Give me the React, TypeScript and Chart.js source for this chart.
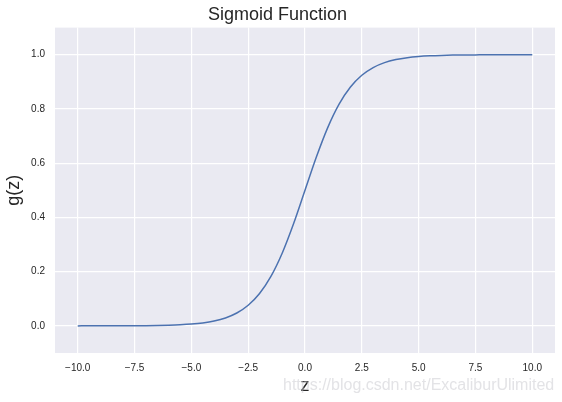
import React, { useEffect, useRef } from "react";
import { Chart, registerables } from "chart.js";

Chart.register(...registerables);

const zValues = [
  -10, -9.5, -9, -8.5, -8, -7.5, -7, -6.5, -6, -5.5, -5, -4.5, -4, -3.5, -3, -2.5, -2, -1.5, -1, -0.5,
  0, 0.5, 1, 1.5, 2, 2.5, 3, 3.5, 4, 4.5, 5, 5.5, 6, 6.5, 7, 7.5, 8, 8.5, 9, 9.5, 10,
];
const gValues = [
  0.0, 0.0001, 0.0001, 0.0002, 0.0003, 0.0006, 0.0009, 0.0015, 0.0025, 0.0041, 0.0067, 0.011, 0.018,
  0.0293, 0.0474, 0.0759, 0.1192, 0.1824, 0.2689, 0.3775, 0.5, 0.6225, 0.7311, 0.8176, 0.8808, 0.9241,
  0.9526, 0.9707, 0.982, 0.989, 0.9933, 0.9959, 0.9975, 0.9985, 0.9991, 0.9994, 0.9997, 0.9998, 0.9999,
  0.9999, 1.0,
];
const xTicks = [-10, -7.5, -5, -2.5, 0, 2.5, 5, 7.5, 10];
const yTicks = [0, 0.2, 0.4, 0.6, 0.8, 1.0];

const fmt = (v: number) => {
  const s = Math.abs(v).toFixed(1);
  return v < 0 ? "\u2212" + s : s;
};

const FONT = "'Liberation Sans', Arial, sans-serif";
const TEXT = "#262626";

export default function App() {
  const ref = useRef<HTMLCanvasElement | null>(null);
  useEffect(() => {
    document.body.style.margin = "0";
    const ctx = ref.current!.getContext("2d")!;
    const bgPlugin = {
      id: "bg",
      beforeDraw(chart: any) {
        const { ctx, chartArea } = chart;
        ctx.save();
        ctx.fillStyle = "#EAEAF2";
        ctx.fillRect(chartArea.left, chartArea.top, chartArea.right - chartArea.left, chartArea.bottom - chartArea.top);
        ctx.restore();
      },
      afterDraw(chart: any) {
        const { ctx } = chart;
        ctx.save();
        ctx.font = `16px ${FONT}`;
        ctx.textBaseline = "alphabetic";
        ctx.textAlign = "left";
        ctx.fillStyle = "rgba(200,200,205,0.5)";
        ctx.fillText("https://blog.csdn.net/ExcaliburUlimited", 283, 390);
        ctx.restore();
      },
    };
    const chart = new Chart(ctx, {
      type: "line",
      data: {
        datasets: [
          {
            data: zValues.map((z, i) => ({ x: z, y: gValues[i] })),
            borderColor: "#4C72B0",
            borderWidth: 1.5,
            pointRadius: 0,
            cubicInterpolationMode: "monotone",
            fill: false,
          },
        ],
      },
      options: {
        animation: false,
        responsive: false,
        layout: { padding: { left: 0, right: 7, top: 0, bottom: 0 } },
        plugins: {
          legend: { display: false },
          tooltip: { enabled: false },
          title: {
            display: true,
            text: "Sigmoid Function",
            color: TEXT,
            font: { family: FONT, size: 18, weight: "normal" },
            padding: { top: 4, bottom: 2 },
          },
        },
        scales: {
          x: {
            type: "linear",
            min: -11,
            max: 11,
            afterBuildTicks: (s: any) => {
              s.ticks = xTicks.map((v) => ({ value: v }));
            },
            afterFit: (s: any) => {
              s.height = 49;
            },
            border: { display: false },
            grid: { color: "#FFFFFF", lineWidth: 1.2, drawTicks: false },
            ticks: {
              color: TEXT,
              font: { family: FONT, size: 10 },
              padding: 9,
              maxRotation: 0,
              autoSkip: false,
              callback: (v: any) => fmt(Number(v)),
            },
            title: {
              display: true,
              text: "z",
              color: TEXT,
              font: { family: FONT, size: 18 },
              padding: { top: 0, bottom: 5 },
            },
          },
          y: {
            type: "linear",
            min: -0.1,
            max: 1.1,
            afterBuildTicks: (s: any) => {
              s.ticks = yTicks.map((v) => ({ value: v }));
            },
            afterFit: (s: any) => {
              s.width = 55;
            },
            border: { display: false },
            grid: { color: "#FFFFFF", lineWidth: 1.2, drawTicks: false },
            ticks: {
              color: TEXT,
              font: { family: FONT, size: 10 },
              padding: 10,
              autoSkip: false,
              callback: (v: any) => fmt(Number(v)),
            },
            title: {
              display: true,
              text: "g(z)",
              color: TEXT,
              font: { family: FONT, size: 18 },
              padding: { top: 3, bottom: 0 },
            },
          },
        },
      },
      plugins: [bgPlugin],
    } as any);
    return () => chart.destroy();
  }, []);
  return <canvas ref={ref} width={562} height={402} style={{ display: "block" }} />;
}
